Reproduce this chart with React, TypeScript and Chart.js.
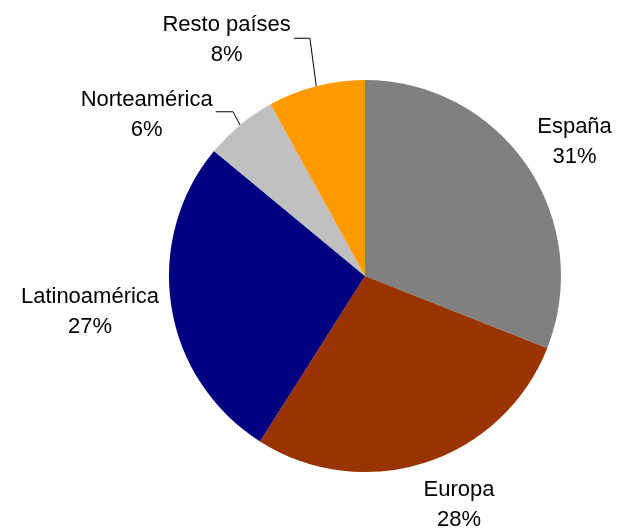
import React, { useEffect, useRef } from "react";
import { Chart, registerables } from "chart.js";

Chart.register(...registerables);

const categories = ["España", "Europa", "Latinoamérica", "Norteamérica", "Resto países"];
const shares = [31, 28, 27, 6, 8];
const percentLabels = ["31%", "28%", "27%", "6%", "8%"];
const sliceColors = ["#808080", "#993300", "#000080", "#C0C0C0", "#FF9900"];

// label anchor (centre x, midpoint between the two baselines) relative to pie centre, in radius units
const labelAnchors: [number, number][] = [
  [1.069, -0.653],
  [0.48, 1.199],
  [-1.403, 0.214],
  [-1.114, -0.791],
  [-0.706, -1.176],
];
// leader-line elbows (radius units), null = no leader
const leaderElbows: ([number, number] | null)[] = [
  null,
  null,
  null,
  [-0.673, -0.838],
  [-0.281, -1.213],
];

const FONT = '22px "Liberation Sans", Arial, sans-serif';
const LINE_GAP = 30;

const labelPlugin = {
  id: "pieLabels",
  afterDraw(chart: any) {
    const ctx = chart.ctx;
    const meta = chart.getDatasetMeta(0);
    ctx.save();
    ctx.font = FONT;
    ctx.fillStyle = "#000000";
    ctx.textAlign = "center";
    ctx.textBaseline = "alphabetic";
    meta.data.forEach((arc: any, i: number) => {
      const { x, y, outerRadius, startAngle, endAngle } = arc.getProps(
        ["x", "y", "outerRadius", "startAngle", "endAngle"],
        true
      );
      const r = outerRadius;
      const ax = x + labelAnchors[i][0] * r;
      const ay = y + labelAnchors[i][1] * r;
      const line1 = categories[i];
      const line2 = percentLabels[i];
      ctx.fillText(line1, ax, ay - LINE_GAP / 2);
      ctx.fillText(line2, ax, ay + LINE_GAP / 2);
      const elbow = leaderElbows[i];
      if (elbow) {
        const mid = (startAngle + endAngle) / 2;
        const ex = x + Math.cos(mid) * r;
        const ey = y + Math.sin(mid) * r;
        const bx = x + elbow[0] * r;
        const by = y + elbow[1] * r;
        const w = ctx.measureText(line1).width;
        const tx = ax + w / 2 + 3;
        ctx.beginPath();
        ctx.strokeStyle = "#000000";
        ctx.lineWidth = 1;
        ctx.moveTo(ex, ey);
        ctx.lineTo(bx, by);
        ctx.lineTo(tx, by);
        ctx.stroke();
      }
    });
    ctx.restore();
  },
};

export default function App() {
  const canvasRef = useRef<HTMLCanvasElement | null>(null);

  useEffect(() => {
    if (!canvasRef.current) return;
    const chart = new Chart(canvasRef.current, {
      type: "pie",
      data: {
        labels: categories,
        datasets: [
          {
            data: shares,
            backgroundColor: sliceColors,
            borderWidth: 0,
          },
        ],
      },
      options: {
        animation: false,
        responsive: true,
        maintainAspectRatio: false,
        layout: { padding: { left: 169, right: 58, top: 80, bottom: 57 } },
        plugins: {
          legend: { display: false },
          tooltip: { enabled: false },
        },
      },
      plugins: [labelPlugin],
    });
    return () => chart.destroy();
  }, []);

  return (
    <div
      style={{
        position: "fixed",
        left: 0,
        top: 0,
        width: 619,
        height: 529,
        background: "#ffffff",
      }}
    >
      <canvas ref={canvasRef} />
    </div>
  );
}
